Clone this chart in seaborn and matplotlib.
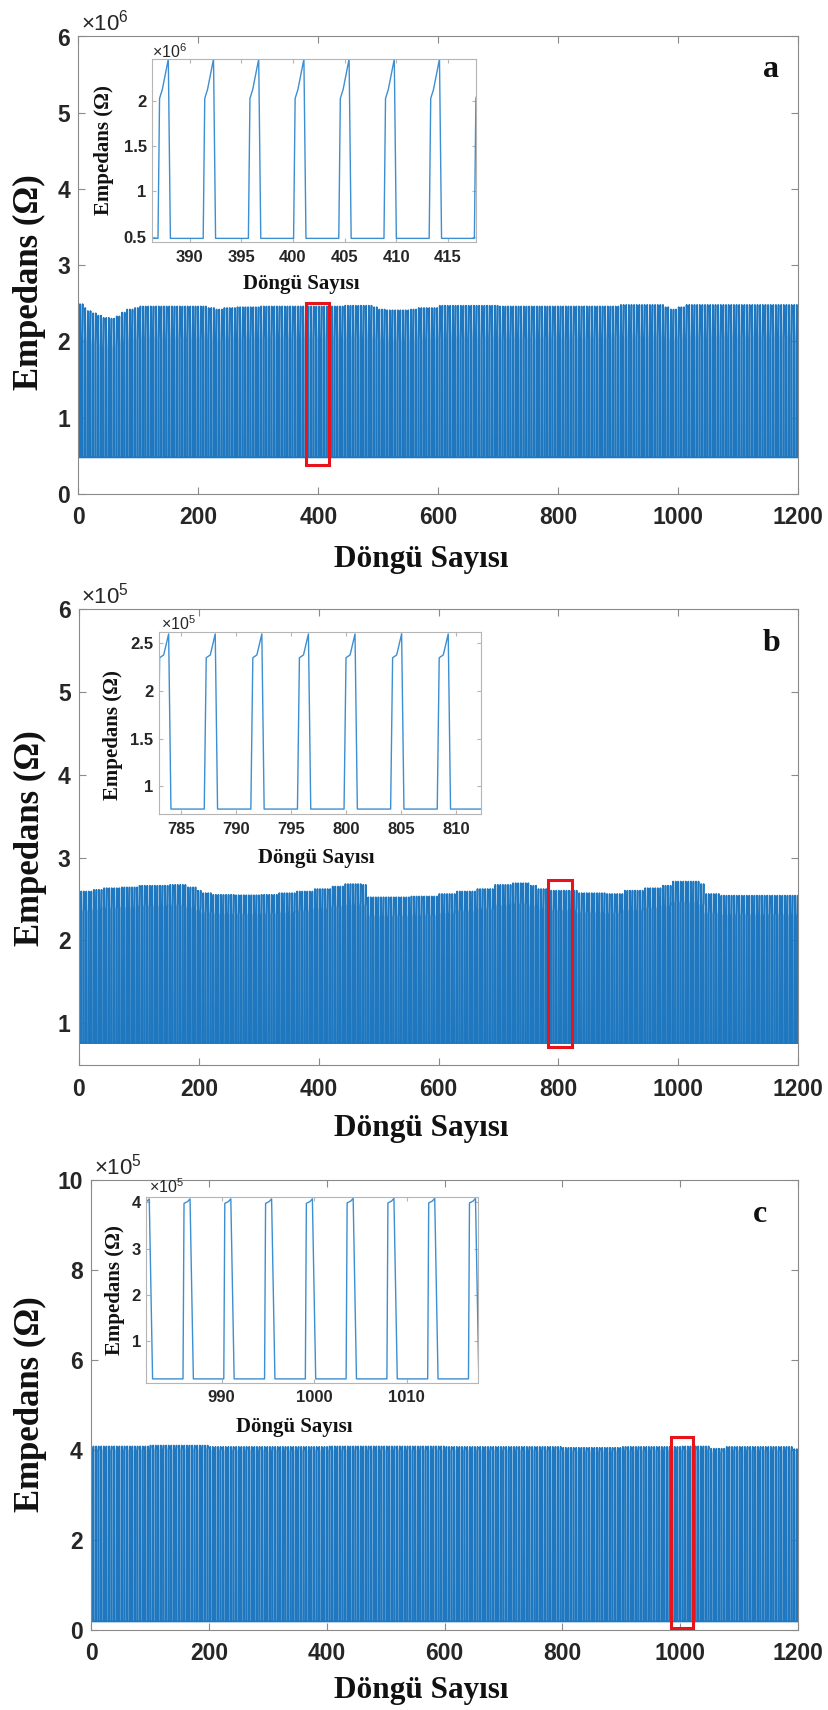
import numpy as np
import pandas as pd
import matplotlib
matplotlib.use("Agg")
import matplotlib.pyplot as plt
import seaborn as sns
from matplotlib.patches import Rectangle

# ---------------- data ----------------
# Impedance pulse train per cycle: each pulse has the shape below
# (time offsets in cycles after the rise, fraction of base->peak height)

# panel a  (values in Ohm, peaks given in units of 1e6)
a_scale = 1e6
a_period = 4.38
a_ref_rise = 391.30
a_base = 0.48e6
a_shape_t = [0.0, 0.15, 0.42, 1.00, 1.20]
a_shape_f = [0.0, 0.78, 0.83, 1.00, 0.0]
a_env_start = [0, 6, 12, 20, 30, 40, 50, 60, 70, 80, 90, 100, 215, 225, 240, 260, 300,
               440, 490, 500, 510, 550, 565, 600, 700, 900, 975, 985, 1000, 1010]
a_env_peak = [2.49, 2.44, 2.40, 2.37, 2.34, 2.31, 2.30, 2.33, 2.38, 2.42, 2.44, 2.46, 2.44, 2.42,
              2.44, 2.45, 2.46, 2.47, 2.45, 2.42, 2.41, 2.42, 2.44, 2.47, 2.46, 2.48, 2.45, 2.42,
              2.45, 2.48]

# panel b  (peaks in units of 1e5)
b_scale = 1e5
b_period = 4.24
b_ref_rise = 787.09
b_base = 0.76e5
b_shape_t = [0.0, 0.18, 0.55, 1.00, 1.21]
b_shape_f = [0.0, 0.864, 0.880, 1.00, 0.0]
b_env_start = [0, 20, 40, 70, 100, 150, 180, 195, 205, 220, 260, 300, 330, 360, 390, 420, 440,
               470, 478, 550, 600, 630, 660, 690, 720, 750, 765, 780, 830, 880, 910, 940, 970,
               990, 1035, 1045, 1070]
b_env_peak = [2.59, 2.61, 2.63, 2.64, 2.66, 2.67, 2.64, 2.60, 2.57, 2.55, 2.545, 2.55, 2.57,
              2.59, 2.62, 2.65, 2.68, 2.67, 2.52, 2.53, 2.56, 2.59, 2.62, 2.67, 2.69, 2.66,
              2.62, 2.60, 2.57, 2.56, 2.60, 2.63, 2.66, 2.71, 2.68, 2.56, 2.54]

# panel c  (peaks in units of 1e5)
c_scale = 1e5
c_period = 4.407
c_ref_rise = 985.82
c_base = 0.19e5
c_shape_t = [0.0, 0.11, 0.50, 0.76, 1.12]
c_shape_f = [0.0, 0.975, 0.985, 1.00, 0.0]
c_env_start = [0, 100, 200, 400, 600, 800, 900, 1000, 1050, 1075, 1190]
c_env_peak = [4.08, 4.10, 4.07, 4.08, 4.07, 4.05, 4.07, 4.08, 4.03, 4.07, 4.02]

# axis ticks
main_xticks = [0, 200, 400, 600, 800, 1000, 1200]
a_yticks = [0, 1e6, 2e6, 3e6, 4e6, 5e6, 6e6]
b_yticks = [1e5, 2e5, 3e5, 4e5, 5e5, 6e5]
c_yticks = [0, 2e5, 4e5, 6e5, 8e5, 10e5]
a_in_xticks = [390, 395, 400, 405, 410, 415]
a_in_yticks = [0.5e6, 1e6, 1.5e6, 2e6]
b_in_xticks = [785, 790, 795, 800, 805, 810]
b_in_yticks = [1e5, 1.5e5, 2e5, 2.5e5]
c_in_xticks = [990, 1000, 1010]
c_in_yticks = [1e5, 2e5, 3e5, 4e5]

# zoomed windows (x range and y range) marked by the red boxes
a_box = [380, 417, 0.38e6, 2.50e6]
b_box = [782, 822, 0.71e5, 2.73e5]
c_box = [984, 1022, 0.04e5, 4.29e5]
a_in_xlim, a_in_ylim = (386.3, 417.7), (0.44e6, 2.46e6)
b_in_xlim, b_in_ylim = (783.0, 812.3), (0.705e5, 2.616e5)
c_in_xlim, c_in_ylim = (981.8, 1017.7), (0.108e5, 4.11e5)


def pulse_train(period, ref, base, shape_t, shape_f, env_start, env_peak, scale, x_end=1200):
    k0 = int(np.floor((0 - ref) / period)) - 1
    k1 = int(np.ceil((x_end - ref) / period)) + 1
    xs, ys = [], []
    for k in range(k0, k1 + 1):
        r = ref + k * period
        idx = max(int(np.searchsorted(env_start, r, side="right")) - 1, 0)
        peak = env_peak[idx] * scale
        for t, f in zip(shape_t, shape_f):
            xs.append(r + t)
            ys.append(base + f * (peak - base))
    return pd.DataFrame({"cycle": xs, "impedance": ys})


df_a = pulse_train(a_period, a_ref_rise, a_base, a_shape_t, a_shape_f, a_env_start, a_env_peak, a_scale)
df_b = pulse_train(b_period, b_ref_rise, b_base, b_shape_t, b_shape_f, b_env_start, b_env_peak, b_scale)
df_c = pulse_train(c_period, c_ref_rise, c_base, c_shape_t, c_shape_f, c_env_start, c_env_peak, c_scale)

# ---------------- style ----------------
sns.set_style("white")
plt.rcParams["font.family"] = ["Liberation Sans", "DejaVu Sans"]
plt.rcParams["mathtext.fontset"] = "custom"
plt.rcParams["mathtext.rm"] = "Liberation Sans"
plt.rcParams["mathtext.it"] = "Liberation Sans:italic"
plt.rcParams["mathtext.bf"] = "Liberation Sans:bold"

W, H = 829, 1710
fig = plt.figure(figsize=(W / 100, H / 100), dpi=100)
fig.patch.set_facecolor("white")

LINE = "#1f78bf"
SERIF = ["Liberation Serif", "DejaVu Serif"]


def rect(l, t, r, b):
    return [l / W, 1 - b / H, (r - l) / W, (b - t) / H]


def fx(px):
    return px / W


def fy(py):
    return 1 - py / H


def style(ax, color, tlen, xticks, yticks, scale, size, xpad, ypad):
    for s in ax.spines.values():
        s.set_visible(True)
        s.set_color(color)
        s.set_linewidth(0.8)
    ax.set_xticks(xticks)
    ax.set_xticklabels([f"{v:g}" for v in xticks], fontweight="bold", fontsize=size, color="#262626")
    ax.set_yticks(yticks)
    ax.set_yticklabels([f"{v / scale:g}" for v in yticks], fontweight="bold", fontsize=size, color="#262626")
    ax.tick_params(axis="both", direction="in", length=tlen, width=0.8, color=color,
                   top=True, right=True, bottom=True, left=True)
    ax.tick_params(axis="x", pad=xpad)
    ax.tick_params(axis="y", pad=ypad)
    ax.set_facecolor("white")
    ax.grid(False)


panels = [
    dict(df=df_a, main=(78.5, 36.5, 798, 494), inset=(151.6, 59, 475.6, 242),
         ylim=(0, 6e6), yticks=a_yticks, scale=a_scale, exp="6", box=a_box,
         in_xlim=a_in_xlim, in_ylim=a_in_ylim, in_xt=a_in_xticks, in_yt=a_in_yticks,
         xpad=8.6, letter="a", letter_xy=(771, 76.8),
         ylab=(29, 282), xlab=(421.6, 567), off=(81, 30),
         in_ylab=(104, 150), in_xlab=(301.3, 289.5), in_off=(152, 58.3), in_xpad=5.8, in_ypad=3.5),
    dict(df=df_b, main=(79, 609, 798, 1064.6), inset=(159.3, 632.4, 481.3, 814.3),
         ylim=(0.5e5, 6e5), yticks=b_yticks, scale=b_scale, exp="5", box=b_box,
         in_xlim=b_in_xlim, in_ylim=b_in_ylim, in_xt=b_in_xticks, in_yt=b_in_yticks,
         xpad=9.7, letter="b", letter_xy=(772, 651),
         ylab=(30, 838), xlab=(421.6, 1136), off=(81, 603.3),
         in_ylab=(113.5, 735), in_xlab=(316, 863.3), in_off=(160.7, 630), in_xpad=5.5, in_ypad=4.3),
    dict(df=df_c, main=(91.2, 1180, 798, 1630), inset=(145.8, 1197, 478, 1382.7),
         ylim=(0, 10e5), yticks=c_yticks, scale=c_scale, exp="5", box=c_box,
         in_xlim=c_in_xlim, in_ylim=c_in_ylim, in_xt=c_in_xticks, in_yt=c_in_yticks,
         xpad=8.6, letter="c", letter_xy=(760, 1221.6),
         ylab=(30.5, 1404), xlab=(421.6, 1698), off=(94, 1174.6),
         in_ylab=(114.7, 1290), in_xlab=(294, 1431.7), in_off=(149, 1192.7), in_xpad=5.3, in_ypad=3.5),
]

for p in panels:
    df = p["df"]
    ax = fig.add_axes(rect(*p["main"]))
    sns.lineplot(data=df, x="cycle", y="impedance", ax=ax, estimator=None, sort=False,
                 color=LINE, lw=1.25)
    ax.set_xlim(0, 1200)
    ax.set_ylim(*p["ylim"])
    style(ax, "#8a8a8a", 5, main_xticks, p["yticks"], p["scale"], 16.5, p["xpad"], 6)

    ax.set_xlabel("Döngü Sayısı", fontfamily=SERIF, fontweight="bold", fontsize=22.5,
                  color="#111111", va="baseline", ha="center")
    ax.xaxis.set_label_coords(fx(p["xlab"][0]), fy(p["xlab"][1]), transform=fig.transFigure)
    ax.set_ylabel("Empedans (Ω)", fontfamily=SERIF, fontweight="bold", fontsize=25,
                  color="#111111", va="center", ha="center")
    ax.yaxis.set_label_coords(fx(p["ylab"][0]), fy(p["ylab"][1]), transform=fig.transFigure)

    fig.text(fx(p["off"][0]), fy(p["off"][1]), r"$\times10^{%s}$" % p["exp"], fontsize=16,
             color="#262626", ha="left", va="baseline")
    fig.text(fx(p["letter_xy"][0]), fy(p["letter_xy"][1]), p["letter"], fontfamily=SERIF,
             fontweight="bold", fontsize=23, color="#111111", ha="center", va="baseline")

    x0, x1, y0, y1 = p["box"]
    ax.add_patch(Rectangle((x0, y0), x1 - x0, y1 - y0, fill=False, edgecolor="#e8141c",
                           lw=2.2, zorder=5))

    # zoomed inset of the boxed cycles
    ins = fig.add_axes(rect(*p["inset"]))
    sub = df[(df["cycle"] > p["in_xlim"][0] - 6) & (df["cycle"] < p["in_xlim"][1] + 6)]
    sns.lineplot(data=sub, x="cycle", y="impedance", ax=ins, estimator=None, sort=False,
                 color="#3d8fd1", lw=1.0)
    ins.set_xlim(*p["in_xlim"])
    ins.set_ylim(*p["in_ylim"])
    style(ins, "#b5b5b5", 3, p["in_xt"], p["in_yt"], p["scale"], 12, p["in_xpad"], p["in_ypad"])
    ins.set_xlabel("Döngü Sayısı", fontfamily=SERIF, fontweight="bold", fontsize=15,
                   color="#111111", va="baseline", ha="center")
    ins.xaxis.set_label_coords(fx(p["in_xlab"][0]), fy(p["in_xlab"][1]), transform=fig.transFigure)
    ins.set_ylabel("Empedans (Ω)", fontfamily=SERIF, fontweight="bold", fontsize=15,
                   color="#111111", va="center", ha="center")
    ins.yaxis.set_label_coords(fx(p["in_ylab"][0]), fy(p["in_ylab"][1]), transform=fig.transFigure)
    fig.text(fx(p["in_off"][0]), fy(p["in_off"][1]), r"$\times10^{%s}$" % p["exp"], fontsize=11.5,
             color="#262626", ha="left", va="baseline")

fig.savefig("out.png", dpi=100, facecolor="white")
